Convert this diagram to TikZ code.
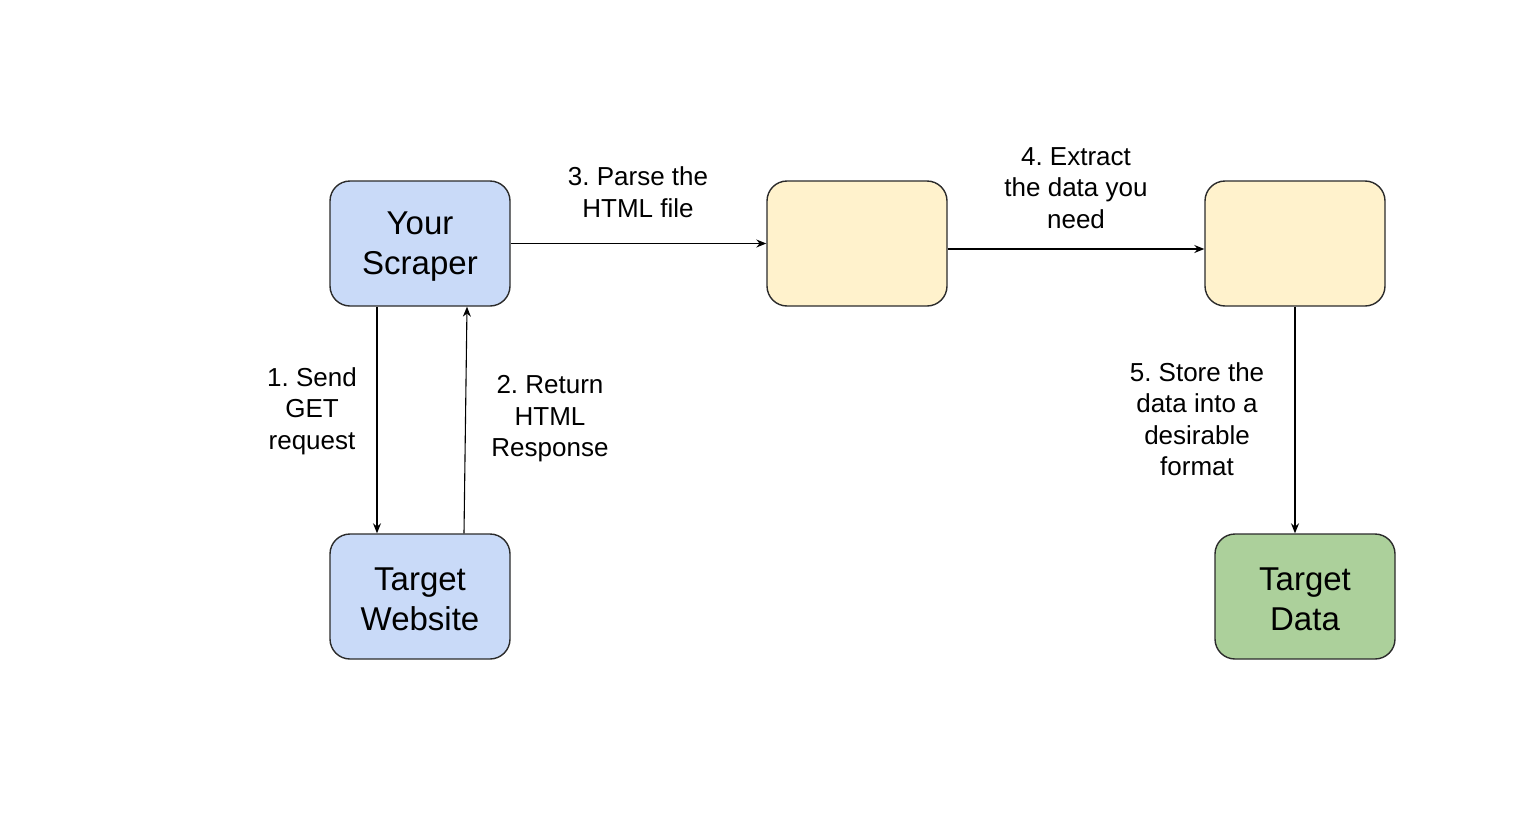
\documentclass[tikz,border=0pt]{standalone}
\usepackage{fontspec}
\setmainfont{Liberation Sans}
\usetikzlibrary{arrows.meta}
\definecolor{boxblue}{HTML}{C9DAF8}
\definecolor{boxyellow}{HTML}{FFF2CC}
\definecolor{boxgreen}{HTML}{ACD09B}
\definecolor{edgegray}{HTML}{2B2B2B}
\tikzset{
  box/.style={draw=edgegray, line width=1.4pt, rounded corners=20pt, minimum width=180pt, minimum height=125pt, inner sep=0pt},
  boxtext/.style={align=center, font=\fontsize{33}{40}\selectfont},
  conn/.style={draw=black, line width=1.1pt, -{Stealth[length=10pt,width=8pt]}},
  lbl/.style={align=center, font=\fontsize{26}{31.5}\selectfont, inner sep=0pt}
}
\begin{document}
\frenchspacing
\begin{tikzpicture}[x=1pt,y=-1pt]
\useasboundingbox (0,0) rectangle (1534,838);
\node[box, fill=boxblue] (ys) at (420,243.5) {};
\node[box, fill=boxblue] (tw) at (420,596.5) {};
\node[box, fill=boxyellow] (y1) at (857,243.5) {};
\node[box, fill=boxyellow] (y2) at (1295,243.5) {};
\node[box, fill=boxgreen] (td) at (1305,596.5) {};
\node[boxtext] (yst) at (420,247) {Your\\Scraper};
\node[boxtext] (twt) at (420,599) {Target\\Website};
\node[boxtext] (tdt) at (1305,599) {Target\\Data};

\draw[conn] ([xshift=-43pt]ys.south) -- ([xshift=-43pt]tw.north);
\draw[conn] ([xshift=44pt]tw.north) -- ([xshift=47pt]ys.south);
\draw[conn] (ys.east) -- (y1.west);
\draw[conn] ([yshift=-5.5pt]y1.east) -- ([yshift=-5.5pt]y2.west);
\draw[conn] (y2.south) -- ([xshift=-10pt]td.north);

\node[lbl] (l1) at (312,411) {1. Send\\GET\\request};
\node[lbl] (l2) at (550,419) {2. Return\\HTML\\Response};
\node[lbl] (l3) at (638,192) {3. Parse the\\HTML file};
\node[lbl] (l4) at (1076,188) {4. Extract\\the data you\\need};
\node[lbl] (l5) at (1197,419) {5. Store the\\data into a\\desirable\\format};
\end{tikzpicture}
\end{document}
